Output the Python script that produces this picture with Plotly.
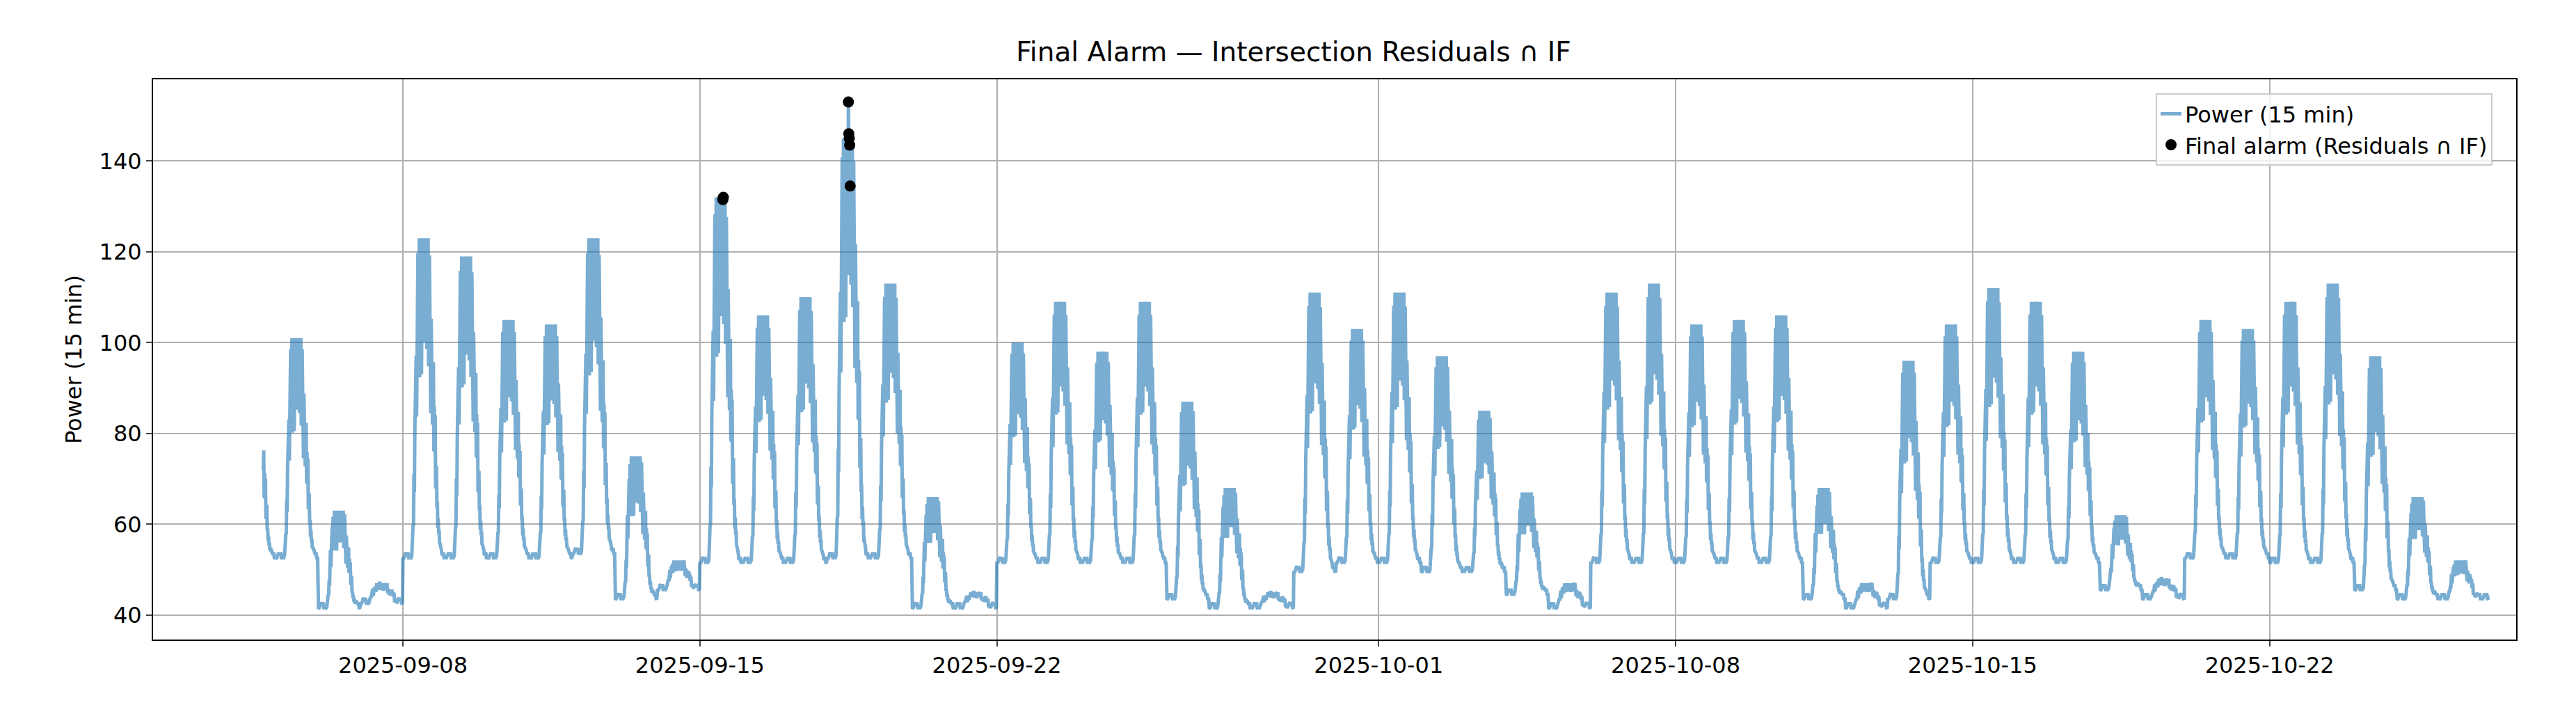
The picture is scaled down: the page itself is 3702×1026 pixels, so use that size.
import numpy as np
import pandas as pd
import plotly.graph_objects as go

# daily peak values (2025-09-04 .. 2025-10-27)
day_start = "2025-09-04"
day_peaks = [91, 101, 63, 47, 123, 119, 105, 104, 123, 75, 52,
             132, 106, 110, 145, 113, 66, 45,
             100, 109, 98, 109, 87, 68, 45,
             111, 103, 111, 97, 85, 67, 47,
             111, 113, 104, 105, 106, 68, 47,
             96, 104, 112, 109, 98, 62, 48,
             105, 103, 109, 113, 97, 66, 52, 50]
day_base = [53, 53, 42, 43, 53, 53, 53, 53, 54, 44, 46,
            52, 52, 52, 53, 53, 42, 42,
            52, 52, 52, 52, 44, 42, 42,
            50, 52, 52, 50, 50, 45, 42,
            52, 52, 52, 52, 52, 44, 42,
            44, 52, 52, 52, 52, 46, 44,
            53, 53, 52, 52, 46, 44, 44, 44]
# hourly shape of a day (fraction of base->peak)
hour_shape = [0, 0, 0, 0, 0, 0, 0.1, 0.45, 0.7, 0.8, 0.68, 0.9,
              1.0, 0.82, 0.9, 0.75, 0.62, 0.5, 0.36, 0.22, 0.1, 0.04, 0, 0]
quarter_jag = [0.0, 0.22, -0.18, 0.12, -0.08, 0.25, -0.2, 0.05,
               0.18, -0.12, 0.08, -0.22, 0.15, -0.05, 0.2, -0.15]

# alarm points
alarm_times = ["2025-09-15 13:00", "2025-09-15 13:15", "2025-09-18 12:00",
               "2025-09-18 12:15", "2025-09-18 12:30", "2025-09-18 12:45", "2025-09-18 13:00"]
alarm_vals = [131.5, 132.0, 153.0, 146.0, 145.0, 143.5, 134.5]

start = pd.Timestamp("2025-09-04 17:00")
end = pd.Timestamp("2025-10-27 04:00")
times = pd.date_range(start, end, freq="15min")
vals = []
d0 = pd.Timestamp(day_start)
for i, t in enumerate(times):
    di = (t.normalize() - d0).days
    pk, bs = day_peaks[di], day_base[di]
    h = t.hour + t.minute / 60
    hi = int(h)
    s = hour_shape[hi] + (hour_shape[(hi + 1) % 24] - hour_shape[hi]) * (h - hi)
    j = quarter_jag[i % 16]
    v = bs + (pk - bs) * s * (1 + j * (1.4 if s > 0.05 else 0))
    v += quarter_jag[(i * 7) % 16] * 3
    vals.append(min(v, pk))
series = pd.Series(vals, index=times)
for at, av in zip(alarm_times, alarm_vals):
    series[pd.Timestamp(at)] = av

fig = go.Figure()
fig.add_trace(go.Scatter(x=series.index, y=series.values, mode="lines",
                         line=dict(color="rgba(31,119,180,0.6)", width=5),
                         name="Power (15 min)"))
fig.add_trace(go.Scatter(x=pd.to_datetime(alarm_times), y=alarm_vals, mode="markers",
                         marker=dict(color="black", size=16),
                         name="Final alarm (Residuals ∩ IF)"))
tickv = ["2025-09-08", "2025-09-15", "2025-09-22", "2025-10-01",
         "2025-10-08", "2025-10-15", "2025-10-22"]
fig.update_layout(
    width=3702, height=1026, template="none",
    font=dict(family="DejaVu Sans", size=32, color="black"),
    margin=dict(l=212, r=94, t=106, b=115),
    title=dict(text="Final Alarm — Intersection Residuals ∩ IF", x=0.5, xanchor="center",
               y=1 - 66 / 1026, yanchor="middle", font=dict(size=39)),
    plot_bgcolor="white", paper_bgcolor="white",
    legend=dict(x=0.99, y=0.975, xanchor="right", yanchor="top",
                bordercolor="#cccccc", borderwidth=2, bgcolor="rgba(255,255,255,0.8)",
                font=dict(size=32), tracegroupgap=10),
    xaxis=dict(range=["2025-09-02 02:40", "2025-10-27 19:30"], tickvals=tickv,
               ticktext=tickv, showgrid=True, gridcolor="#b0b0b0", gridwidth=2,
               showline=True, linecolor="black", linewidth=2, mirror=True,
               ticks="outside", ticklen=8, tickwidth=2, zeroline=False),
    yaxis=dict(range=[34.6, 158], tickvals=[40, 60, 80, 100, 120, 140],
               title=dict(text="Power (15 min)", standoff=15, font=dict(size=32)),
               showgrid=True, gridcolor="#b0b0b0", gridwidth=2,
               showline=True, linecolor="black", linewidth=2, mirror=True,
               ticks="outside", ticklen=8, tickwidth=2, zeroline=False),
)
fig.write_html("out.html")
